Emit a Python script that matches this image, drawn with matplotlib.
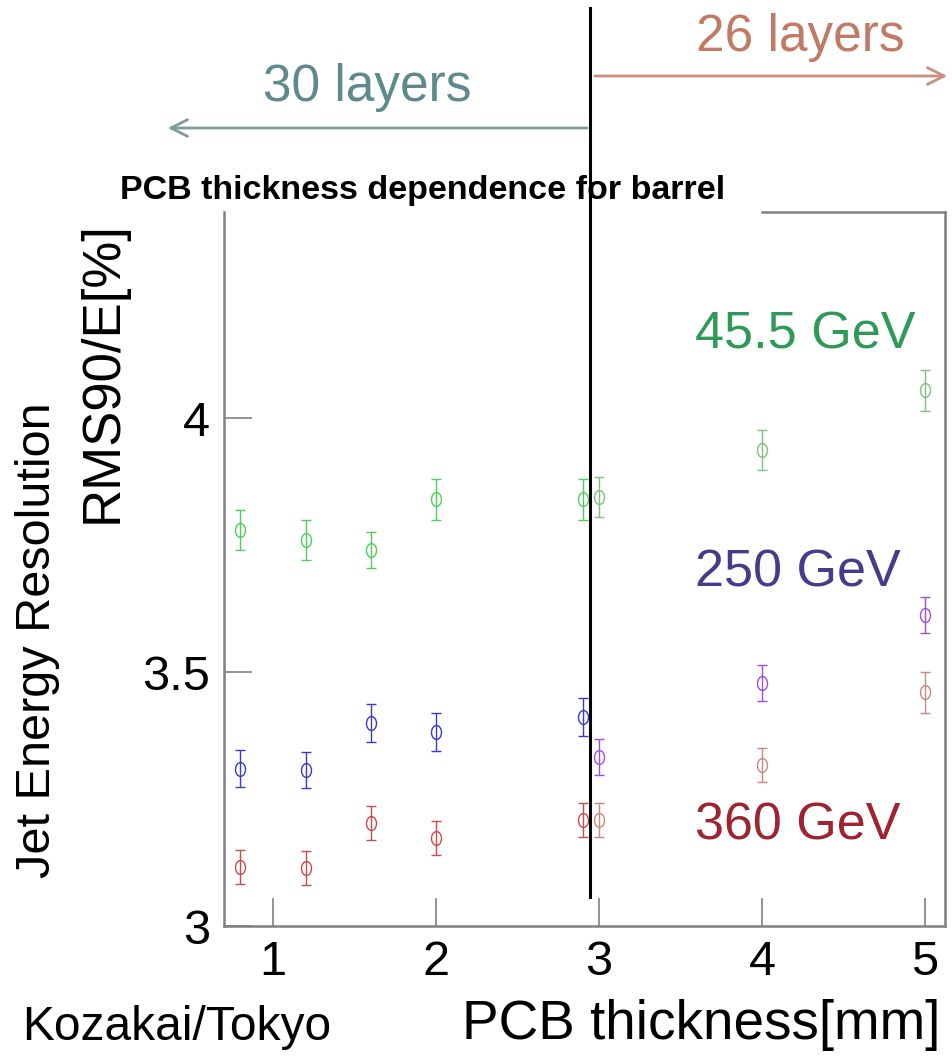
import matplotlib
matplotlib.use('Agg')
import matplotlib.pyplot as plt
from matplotlib.lines import Line2D
from matplotlib.path import Path
from matplotlib.transforms import Affine2D

plt.rcParams['font.family'] = ['Liberation Sans', 'DejaVu Sans']

# PCB thickness [mm] and jet energy resolution RMS90/E [%]
thick_30 = [0.8, 1.2, 1.6, 2.0, 2.9]
thick_26 = [3.0, 4.0, 5.0]

res_45_30 = [3.78, 3.76, 3.74, 3.84, 3.84]
err_45_30 = [0.04, 0.04, 0.035, 0.04, 0.04]
res_45_26 = [3.845, 3.937, 4.055]
err_45_26 = [0.04, 0.04, 0.04]

res_250_30 = [3.31, 3.307, 3.40, 3.382, 3.411]
err_250_30 = [0.037, 0.035, 0.037, 0.037, 0.037]
res_250_26 = [3.333, 3.478, 3.612]
err_250_26 = [0.035, 0.035, 0.035]

res_360_30 = [3.116, 3.114, 3.203, 3.173, 3.209]
err_360_30 = [0.033, 0.033, 0.033, 0.033, 0.033]
res_360_26 = [3.209, 3.317, 3.46]
err_360_26 = [0.033, 0.033, 0.04]

x_ticks = [1, 2, 3, 4, 5]
y_ticks = [3, 3.5, 4]
y_tick_labels = ['3', '3.5', '4']

W, H = 952, 1059
fig = plt.figure(figsize=(W / 100, H / 100), dpi=100)


def fx(px):
    return px / W


def fy(py):
    return 1 - py / H


ax = fig.add_axes([fx(224), fy(926), fx(945) - fx(224), fy(212) - fy(926)])

# slightly tall open ellipse as point marker
oval = Affine2D().scale(0.72, 1.0).transform_path(Path.unit_circle())

series = [
    (thick_30, res_45_30, err_45_30, '#4fcf5a'),
    (thick_26, res_45_26, err_45_26, '#7fbf7f'),
    (thick_30, res_250_30, err_250_30, '#3a3ac8'),
    (thick_26, res_250_26, err_250_26, '#9a50d8'),
    (thick_30, res_360_30, err_360_30, '#cc4a4a'),
    (thick_26, res_360_26, err_360_26, '#c48a80'),
]
for xs, ys, es, col in series:
    ax.errorbar(xs, ys, yerr=es, fmt='none', ecolor=col,
                elinewidth=1.0, capsize=3.5, capthick=1.0)
    ax.plot(xs, ys, linestyle='none', marker=oval, mfc='none', mec=col,
            ms=10, mew=1.0)

ax.set_xlim(0.699, 5.123)
ax.set_ylim(3, 4.406)
ax.set_xticks(x_ticks)
ax.set_yticks(y_ticks)
ax.set_yticklabels(y_tick_labels)
ax.tick_params(direction='in', length=20, width=1.2, color='#808080',
               labelsize=35, pad=10)
for side in ['left', 'right', 'bottom']:
    ax.spines[side].set_color('#808080')
    ax.spines[side].set_linewidth(1.8)
ax.spines['top'].set_visible(False)
ax.add_line(Line2D([0.746, 1.0], [1.0, 1.0], transform=ax.transAxes,
                   color='#808080', lw=1.8, clip_on=False))

# boundary between 30-layer and 26-layer configurations
fig.add_artist(Line2D([fx(590), fx(590)], [fy(8), fy(897)],
                      color='black', lw=2.2))

fig.text(fx(120), fy(190), 'PCB thickness dependence for barrel',
         fontsize=24.5, fontweight='bold', va='center', ha='left')

fig.text(fx(367), fy(88), '30 layers', fontsize=37, color='#5f8a8c',
         ha='center', va='center')
fig.add_artist(matplotlib.patches.FancyArrowPatch(
    (fx(590), fy(128)), (fx(165), fy(128)), transform=fig.transFigure,
    arrowstyle='->,head_length=12,head_width=6', color='#7f9c9c', lw=2))

fig.text(fx(800), fy(38), '26 layers', fontsize=37, color='#c07a66',
         ha='center', va='center')
fig.add_artist(matplotlib.patches.FancyArrowPatch(
    (fx(592), fy(76)), (fx(950), fy(76)), transform=fig.transFigure,
    arrowstyle='->,head_length=12,head_width=6', color='#c8907f', lw=2))

fig.text(fx(695), fy(335), '45.5 GeV', fontsize=37.5, color='#2e9a58',
         ha='left', va='center')
fig.text(fx(695), fy(573), '250 GeV', fontsize=37.5, color='#4a3a8c',
         ha='left', va='center')
fig.text(fx(695), fy(826), '360 GeV', fontsize=37.5, color='#9e2432',
         ha='left', va='center')

fig.text(fx(38), fy(640), 'Jet Energy Resolution', fontsize=35,
         rotation=90, ha='center', va='center')
fig.text(fx(103), fy(372), 'RMS90/E[%]', fontsize=38,
         rotation=90, ha='center', va='center')

fig.text(fx(22), fy(1028), 'Kozakai/Tokyo', fontsize=34.5,
         ha='left', va='center')
fig.text(fx(940), fy(1025), 'PCB thickness[mm]', fontsize=39.5,
         ha='right', va='center')

fig.savefig('out.png', dpi=100)
